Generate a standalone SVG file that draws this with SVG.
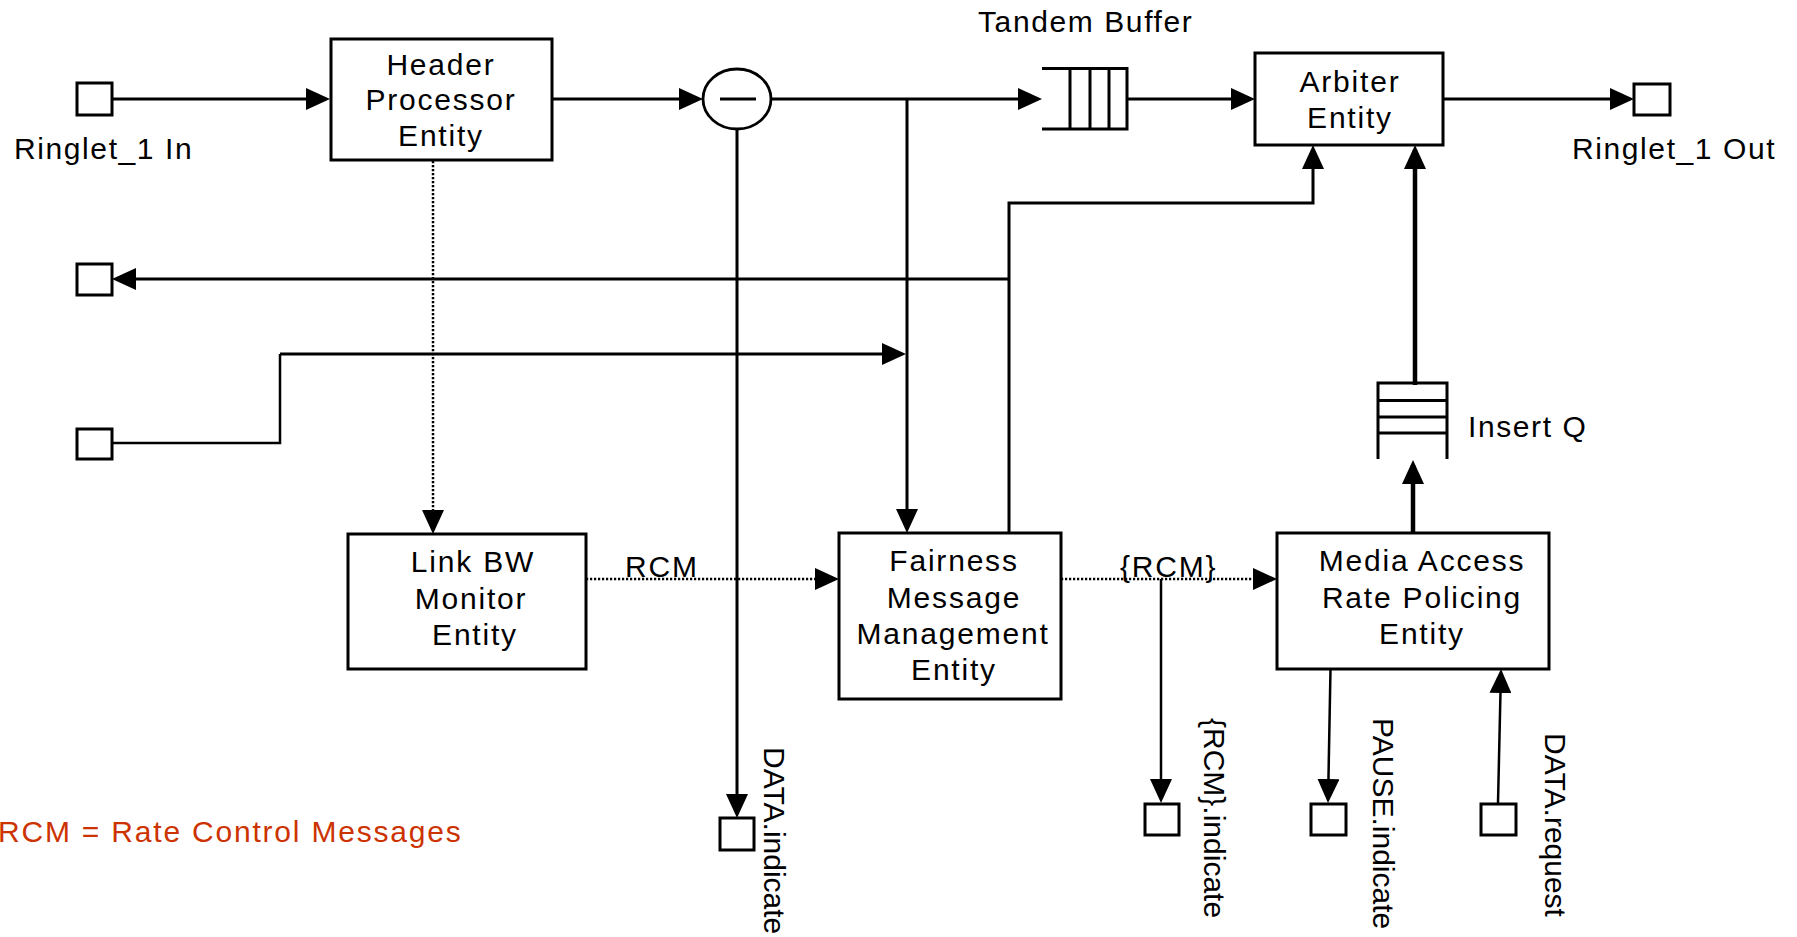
<svg xmlns="http://www.w3.org/2000/svg" width="1797" height="937" viewBox="0 0 1797 937">
<style>
text{font-family:"Liberation Sans",Arial,sans-serif;font-size:30px;fill:#000;letter-spacing:1.8px}
.c{text-anchor:middle}
.lbl{letter-spacing:1.6px}
.rot{letter-spacing:0px}
.red{fill:#CC3300;letter-spacing:1.8px}
.box{fill:#fff;stroke:#000;stroke-width:3}
.port{fill:#fff;stroke:#000;stroke-width:3}
.ln{fill:none;stroke:#000;stroke-width:3}
.thin{fill:none;stroke:#000;stroke-width:2.5}
.thick{fill:none;stroke:#000;stroke-width:4.5}
.dot{fill:none;stroke:#000;stroke-width:2.5;stroke-dasharray:2.2 1.8}
.q{fill:none;stroke:#000;stroke-width:3}
</style>
<defs>
<marker id="a" markerUnits="userSpaceOnUse" markerWidth="24" markerHeight="22" viewBox="0 0 24 22" refX="19" refY="11" orient="auto">
<path d="M0,0 L24,11 L0,22 Z" fill="#000"/>
</marker>
</defs>
<rect width="1797" height="937" fill="#fff"/>

<g id="connectors">
<path class="ln" d="M112,99 H325" marker-end="url(#a)"/>
<path class="ln" d="M552,99 H698" marker-end="url(#a)"/>
<path class="ln" d="M771,99 H1037" marker-end="url(#a)"/>
<path class="ln" d="M1127,99 H1250" marker-end="url(#a)"/>
<path class="ln" d="M1443,99 H1629" marker-end="url(#a)"/>
<path class="ln" d="M907,99 V528" marker-end="url(#a)"/>
<path class="ln" d="M737,129 V813" marker-end="url(#a)"/>
<path class="ln" d="M1009,533 V203 H1313 V150" marker-end="url(#a)"/>
<path class="ln" d="M1009,279 H117" marker-end="url(#a)"/>
<path class="ln" d="M280,354 H901" marker-end="url(#a)"/>
<path class="thin" d="M112,443 H280 V354"/>
<path class="thick" d="M1415,385 V150" marker-end="url(#a)"/>
<path class="thick" d="M1413,533 V465" marker-end="url(#a)"/>
<path class="dot" d="M433,161 V529" marker-end="url(#a)"/>
<path class="dot" d="M586,579 H834" marker-end="url(#a)"/>
<path class="dot" d="M1061,579 H1272" marker-end="url(#a)"/>
<path class="thin" d="M1161,579 V798" marker-end="url(#a)"/>
<path class="thin" d="M1330.5,669 L1328.1,798" marker-end="url(#a)"/>
<path class="thin" d="M1498,803 L1500.9,674" marker-end="url(#a)"/>
</g>

<g id="ringlet-in">
<rect class="port" x="77" y="83" width="35" height="32"/>
<text class="lbl" x="14" y="159">Ringlet_1 In</text>
</g>
<g id="port-left-2">
<rect class="port" x="77" y="264" width="35" height="31"/>
</g>
<g id="port-left-3">
<rect class="port" x="77" y="429" width="35" height="30"/>
</g>

<g id="header">
<rect class="box" x="331" y="39" width="221" height="121"/>
<text class="c" x="441" y="75">Header</text>
<text class="c" x="441" y="110">Processor</text>
<text class="c" x="441" y="146">Entity</text>
</g>

<g id="subtract">
<ellipse cx="737" cy="99" rx="34" ry="30" fill="#fff" stroke="#000" stroke-width="2.8"/>
<line x1="720" y1="99" x2="756" y2="99" stroke="#000" stroke-width="2.8"/>
</g>

<g id="tandem-buffer">
<path class="q" d="M1042,68.5 H1127 V129 H1042 M1070,68.5 V129 M1090,68.5 V129 M1109,68.5 V129"/>
<text class="lbl" x="978" y="32">Tandem Buffer</text>
</g>

<g id="arbiter">
<rect class="box" x="1255" y="53" width="188" height="92"/>
<text class="c" x="1350" y="92">Arbiter</text>
<text class="c" x="1350" y="128">Entity</text>
</g>

<g id="ringlet-out">
<rect class="port" x="1634" y="84" width="36" height="31"/>
<text class="lbl" x="1572" y="159">Ringlet_1 Out</text>
</g>

<g id="insert-q">
<path class="q" d="M1378,459 V383 H1447 V459 M1378,400.5 H1447 M1378,417 H1447 M1378,433 H1447"/>
<text class="lbl" x="1468" y="437">Insert Q</text>
</g>

<g id="link-bw">
<rect class="box" x="348" y="534" width="238" height="135"/>
<text class="c" x="473" y="572">Link BW</text>
<text class="c" x="471" y="609">Monitor</text>
<text class="c" x="475" y="645">Entity</text>
</g>
<text x="625" y="577">RCM</text>

<g id="fairness">
<rect class="box" x="839" y="533" width="222" height="166"/>
<text class="c" x="954" y="571">Fairness</text>
<text class="c" x="954" y="608">Message</text>
<text class="c" x="953" y="644">Management</text>
<text class="c" x="954" y="680">Entity</text>
</g>
<text x="1120" y="577">{RCM}</text>

<g id="media-access">
<rect class="box" x="1277" y="533" width="272" height="136"/>
<text class="c" x="1422" y="571">Media Access</text>
<text class="c" x="1422" y="608">Rate Policing</text>
<text class="c" x="1422" y="644">Entity</text>
</g>

<g id="data-indicate">
<rect class="port" x="720" y="818" width="34" height="32"/>
<text class="rot" transform="translate(764,747) rotate(90)">DATA.indicate</text>
</g>
<g id="rcm-indicate">
<rect class="port" x="1145" y="804" width="34" height="31"/>
<text class="rot" transform="translate(1204,718) rotate(90)">{RCM}.indicate</text>
</g>
<g id="pause-indicate">
<rect class="port" x="1311" y="804" width="35" height="31"/>
<text class="rot" transform="translate(1373,718) rotate(90)">PAUSE.indicate</text>
</g>
<g id="data-request">
<rect class="port" x="1481" y="804" width="35" height="31"/>
<text class="rot" transform="translate(1545,733) rotate(90)">DATA.request</text>
</g>

<g id="legend">
<text class="red" x="-2" y="842">RCM = Rate Control Messages</text>
</g>
</svg>
